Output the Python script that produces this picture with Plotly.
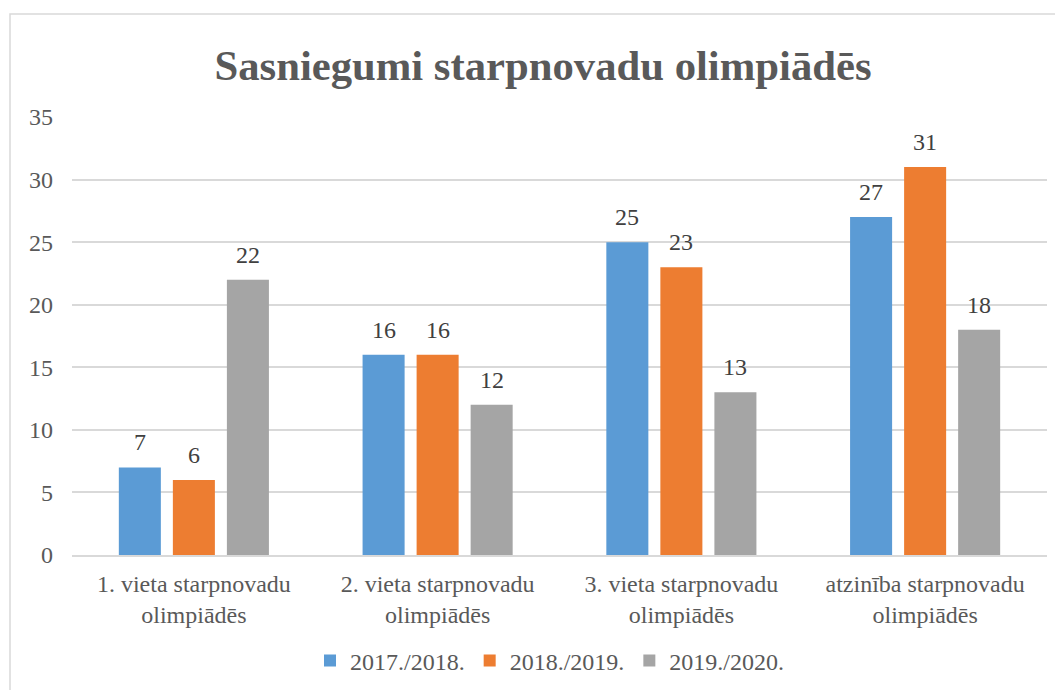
import plotly.graph_objects as go

categories = ["1. vieta starpnovadu<br>olimpiādēs", "2. vieta starpnovadu<br>olimpiādēs",
              "3. vieta starpnovadu<br>olimpiādēs", "atzinība starpnovadu<br>olimpiādēs"]
series_names = ["2017./2018.", "2018./2019.", "2019./2020."]
values_2017 = [7, 16, 25, 27]
values_2018 = [6, 16, 23, 31]
values_2019 = [22, 12, 13, 18]
colors = ["#5B9BD5", "#ED7D31", "#A5A5A5"]

FONT = "Liberation Serif"
W, H = 1063, 690
ML, MR, MT, MB = 64, 24, 109, 143
PW = W - ML - MR
PH = H - MT - MB
BODY = 8  # browser default body margin (screen px offset)

def px_to_paper_x(px):
    return (px - BODY - ML) / PW

def px_to_paper_y(py):
    return (H - MB + BODY - py) / PH

fig = go.Figure()
all_vals = [values_2017, values_2018, values_2019]
for name, vals, col in zip(series_names, all_vals, colors):
    fig.add_trace(go.Bar(
        x=categories, y=vals, name=name, marker=dict(color=col, line=dict(width=0)),
    ))

bargap, bargroupgap = 0.335, 0.222
slot_px = PW / len(categories) * (1 - bargap) / 3
annotations = []
for i, vals in enumerate(all_vals):
    for cat, v in zip(categories, vals):
        annotations.append(dict(
            x=cat, y=v, xref="x", yref="y", text=str(v), showarrow=False,
            xshift=(i - 1) * slot_px, yshift=25, yanchor="middle",
            font=dict(family=FONT, size=24, color="#404040"),
        ))

fig.update_layout(
    width=W, height=H,
    paper_bgcolor="white", plot_bgcolor="white",
    margin=dict(l=ML, r=MR, t=MT, b=MB, autoexpand=False),
    barmode="group", bargap=bargap, bargroupgap=bargroupgap,
    title=dict(text="<b>Sasniegumi starpnovadu olimpiādēs</b>", x=px_to_paper_x(543), xref="paper",
               xanchor="center", y=1 - 57 / H, yanchor="middle",
               font=dict(family=FONT, size=42.7, color="#595959")),
    font=dict(family=FONT, size=24, color="#595959"),
    showlegend=True,
    legend=dict(orientation="h", x=px_to_paper_x(550), xanchor="center", y=px_to_paper_y(661),
                yanchor="middle",
                font=dict(family=FONT, size=24, color="#595959"),
                itemwidth=30, traceorder="normal"),
    yaxis=dict(range=[0, 35], dtick=5, showgrid=True, gridcolor="#D9D9D9", gridwidth=1.5,
               zeroline=False, showline=False, ticks="", ticklabelstandoff=18,
               tickfont=dict(family=FONT, size=24, color="#595959")),
    xaxis=dict(showline=True, linecolor="#D9D9D9", linewidth=2, ticks="", ticklabelstandoff=6,
               tickfont=dict(family=FONT, size=24, color="#595959")),
    annotations=annotations,
    shapes=[dict(type="rect", xref="paper", yref="paper",
                 x0=px_to_paper_x(10), x1=px_to_paper_x(1080),
                 y0=px_to_paper_y(720), y1=px_to_paper_y(14),
                 line=dict(color="#D9D9D9", width=1.5), fillcolor="rgba(0,0,0,0)", layer="below")],
)
fig.write_html("out.html")
